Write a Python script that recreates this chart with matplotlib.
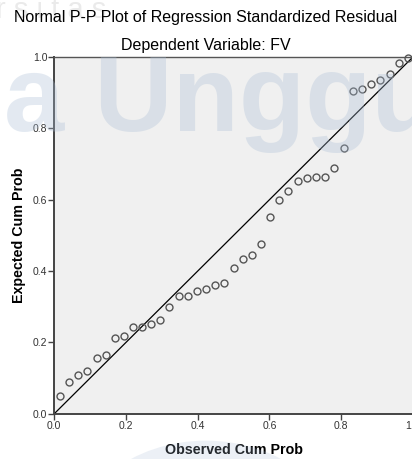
import numpy as np
import matplotlib
matplotlib.use('Agg')
import matplotlib.pyplot as plt
from matplotlib.patches import Ellipse

plt.rcParams['font.family'] = ['Liberation Sans', 'DejaVu Sans']

# observed vs expected cumulative probabilities
observed = [0.015, 0.041, 0.066, 0.092, 0.118, 0.143, 0.168, 0.194, 0.219, 0.245,
            0.270, 0.296, 0.321, 0.347, 0.372, 0.398, 0.423, 0.448, 0.474, 0.501,
            0.526, 0.551, 0.576, 0.602, 0.628, 0.653, 0.680, 0.704, 0.730, 0.755,
            0.781, 0.807, 0.834, 0.858, 0.883, 0.910, 0.936, 0.962, 0.987]
expected = [0.049, 0.090, 0.109, 0.119, 0.155, 0.165, 0.212, 0.219, 0.242, 0.244,
            0.252, 0.262, 0.298, 0.331, 0.331, 0.344, 0.351, 0.361, 0.366, 0.410,
            0.433, 0.445, 0.476, 0.553, 0.599, 0.624, 0.654, 0.662, 0.663, 0.665,
            0.690, 0.745, 0.904, 0.910, 0.925, 0.935, 0.954, 0.984, 0.999]
ticks = [0.0, 0.2, 0.4, 0.6, 0.8, 1.0]
tick_labels = ['0.0', '0.2', '0.4', '0.6', '0.8', '1.0']

fig = plt.figure(figsize=(4.12, 4.59), dpi=100)
fig.patch.set_facecolor('white')
ax = fig.add_axes([0.1318, 0.0987, 0.8700, 0.7767])
ax.set_facecolor('#F0F0F0')

# faint watermark behind the plot
wm = '#A9BDD6'
fig.text(0.01, 0.715, 'a Unggul', fontsize=78, fontweight='bold', color=wm,
         alpha=0.32, zorder=0.5)
fig.text(-0.01, 0.960, 'r s i t a s', fontsize=21, color='#EAEAEA', zorder=0.4)
fig.patches.append(Ellipse((0.50, -0.20), 0.66, 0.48, transform=fig.transFigure,
                           facecolor=wm, alpha=0.22, edgecolor='none', zorder=0.5))

ax.plot([0, 1], [0, 1], color='black', lw=0.9, zorder=2)
ax.plot(observed, expected, 'o', mfc='none', mec='#555555', ms=5, mew=1.0,
        zorder=3, clip_on=False)

ax.set_xlim(0, 1)
ax.set_ylim(0, 1)
ax.set_xticks(ticks)
ax.set_xticklabels(tick_labels)
ax.set_yticks(ticks)
ax.set_yticklabels(tick_labels)
ax.tick_params(direction='out', length=4, width=1, color='#444444',
               labelsize=7.5, labelcolor='#333333', pad=1)
for s in ['left', 'bottom']:
    ax.spines[s].set_color('#444444')
    ax.spines[s].set_linewidth(1.4)
ax.spines['top'].set_color('#555555')
ax.spines['top'].set_linewidth(1.0)
ax.spines['right'].set_visible(False)

ax.set_xlabel('Observed Cum Prob', fontsize=10.3, fontweight='bold', labelpad=9)
ax.set_ylabel('Expected Cum Prob', fontsize=10.3, fontweight='bold', labelpad=5)

fig.text(0.5, 0.962, 'Normal P-P Plot of Regression Standardized Residual',
         ha='center', va='center', fontsize=11.5, zorder=3)
fig.text(0.5, 0.900, 'Dependent Variable: FV', ha='center', va='center',
         fontsize=11.5, zorder=3)

fig.savefig('out.png', dpi=100)
